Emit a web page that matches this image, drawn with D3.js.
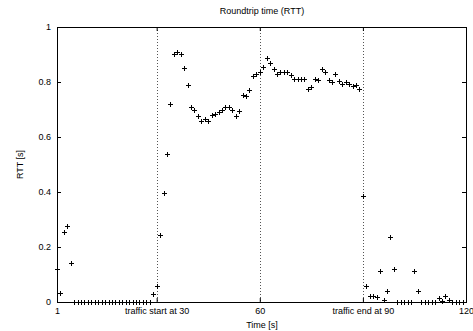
<!DOCTYPE html>
<html>
<head>
<meta charset="utf-8">
<script src="https://cdn.jsdelivr.net/npm/d3@7"></script>
<style>
  html, body { margin: 0; padding: 0; background: #fff; }
  svg { display: block; }
  text { font-family: "Liberation Sans", Arial, Helvetica, sans-serif; fill: #000; }
</style>
</head>
<body>
<svg id="chart" width="473" height="331"></svg>
<script>
// ---- data ----
const title = "Roundtrip time (RTT)";
const xLabel = "Time [s]";
const yLabel = "RTT [s]";
const xTickValues = [1, 30, 60, 90, 120];
const xTickLabels = ["1", "traffic start at 30", "60", "traffic end at 90", "120"];
const yTickValues = [0, 0.2, 0.4, 0.6, 0.8, 1];
const yTickLabels = ["0", "0.2", "0.4", "0.6", "0.8", "1"];
const markerTimes = [30, 60, 90];
// RTT sample per second, starting at t = 1
const rtt = [
  0.12, 0.032, 0.255, 0.276, 0.14,
  0, 0, 0, 0, 0, 0, 0, 0, 0, 0, 0, 0, 0, 0, 0, 0, 0, 0, 0, 0, 0, 0, 0,
  0.03, 0.058, 0.244, 0.395, 0.54, 0.72, 0.90, 0.908, 0.90, 0.85, 0.788,
  0.71, 0.70, 0.676, 0.657, 0.664, 0.66, 0.68, 0.684, 0.69, 0.70,
  0.708, 0.708, 0.70, 0.676, 0.695, 0.753, 0.749, 0.771, 0.822, 0.83,
  0.836, 0.856, 0.889, 0.868, 0.848, 0.829, 0.835, 0.835, 0.835, 0.824,
  0.812, 0.812, 0.812, 0.812, 0.773, 0.783, 0.81, 0.806, 0.847, 0.838,
  0.808, 0.799, 0.83, 0.804, 0.794, 0.80, 0.794, 0.787, 0.789, 0.775,
  0.384, 0.058, 0.022, 0.023, 0.017, 0.114, 0.007, 0.04, 0.236, 0.121,
  0, 0, 0, 0, 0, 0.114, 0.04, 0, 0, 0, 0, 0,
  0.013, 0.003, 0.022, 0.007, 0, 0, 0, 0
];
const times = rtt.map((_, i) => i + 1);

// ---- layout ----
const svg = d3.select("#chart");
const L = 57, R = 466, T = 27, B = 302;
const x = d3.scaleLinear().domain([1, 120]).range([L, R]);
const y = d3.scaleLinear().domain([0, 1]).range([B, T]);
const fontSize = 9;

// dotted marker lines
svg.append("g").selectAll("line").data(markerTimes).join("line")
  .attr("x1", d => Math.round(x(d)) + 0.5).attr("x2", d => Math.round(x(d)) + 0.5)
  .attr("y1", T).attr("y2", B)
  .attr("stroke", "#555").attr("stroke-width", 1).attr("stroke-dasharray", "1,2");

// axes
const axStyle = g => {
  g.select(".domain").remove();
  g.selectAll(".tick line").attr("stroke", "#000");
  g.selectAll(".tick text").attr("font-size", fontSize).attr("fill", "#000")
    .attr("font-family", "Liberation Sans, Arial, sans-serif");
};
svg.append("g").attr("transform", `translate(0,${B})`)
  .call(d3.axisBottom(x).tickValues(xTickValues)
    .tickFormat((d, i) => xTickLabels[i]).tickSizeInner(-4).tickSizeOuter(0).tickPadding(6))
  .call(axStyle);
svg.append("g").attr("transform", `translate(0,${T})`)
  .call(d3.axisTop(x).tickValues(xTickValues).tickFormat("").tickSizeInner(-4).tickSizeOuter(0))
  .call(axStyle);
svg.append("g").attr("transform", `translate(${L},0)`)
  .call(d3.axisLeft(y).tickValues(yTickValues)
    .tickFormat((d, i) => yTickLabels[i]).tickSizeInner(-4).tickSizeOuter(0).tickPadding(6))
  .call(axStyle);
svg.append("g").attr("transform", `translate(${R},0)`)
  .call(d3.axisRight(y).tickValues(yTickValues).tickFormat("").tickSizeInner(-4).tickSizeOuter(0))
  .call(axStyle);

// frame
svg.append("rect")
  .attr("x", L + 0.5).attr("y", T + 0.5)
  .attr("width", R - L).attr("height", B - T)
  .attr("fill", "none").attr("stroke", "#000").attr("stroke-width", 1);

// points (+ markers)
const pts = svg.append("g").attr("stroke", "#000").attr("stroke-width", 1);
const data = times.map((t, i) => ({ t, v: rtt[i] }));
pts.selectAll("path").data(data).join("path")
  .attr("d", d => {
    const cx = Math.round(x(d.t)) + 0.5, cy = Math.round(y(d.v)) + 0.5;
    return `M${cx - 2.5},${cy}H${cx + 2.5}M${cx},${cy - 2.5}V${cy + 2.5}`;
  })
  .attr("fill", "none");

// titles
svg.append("text").attr("x", (L + R) / 2 + 0.5).attr("y", 13.5)
  .attr("text-anchor", "middle").attr("font-size", fontSize).text(title);
svg.append("text").attr("x", (L + R) / 2 + 0.5).attr("y", 328)
  .attr("text-anchor", "middle").attr("font-size", fontSize).text(xLabel);
svg.append("text").attr("transform", `translate(23,${(T + B) / 2}) rotate(-90)`)
  .attr("text-anchor", "middle").attr("font-size", fontSize).text(yLabel);
</script>
</body>
</html>
